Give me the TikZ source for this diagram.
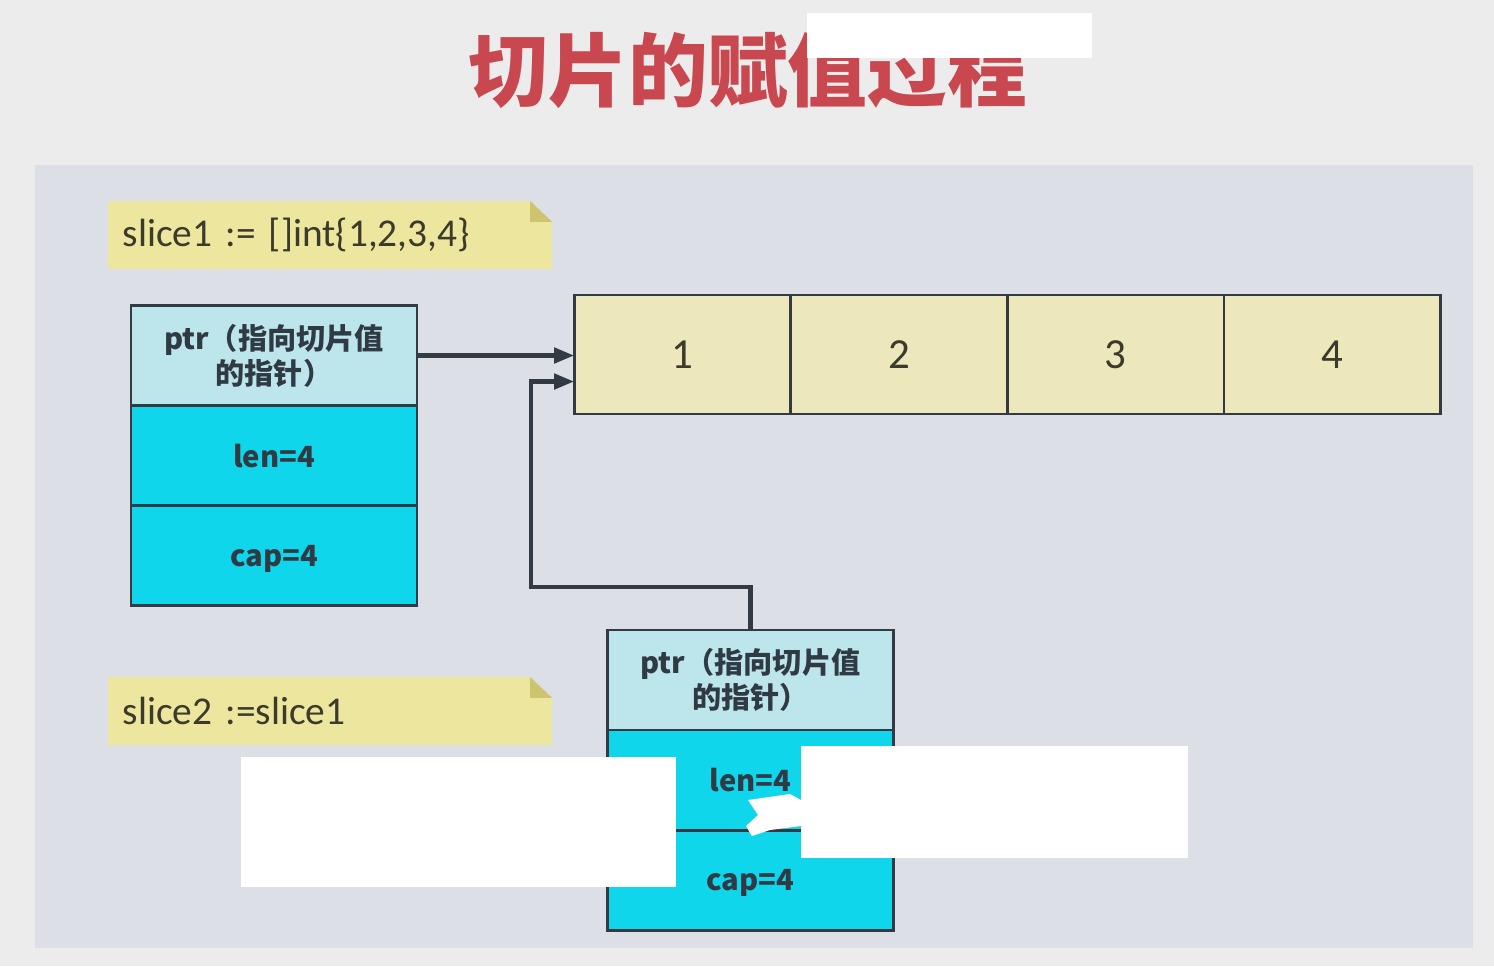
\documentclass[tikz,border=0pt]{standalone}
\usepackage{fontspec}
\setmainfont{Carlito}
\newfontfamily\cjk{Noto Sans CJK SC}
\usepackage{xcolor}
\usepackage{tikz}
\usetikzlibrary{arrows.meta, positioning}

\definecolor{pagebg}{HTML}{ECECEC}
\definecolor{panelbg}{HTML}{DCDFE6}
\definecolor{titlered}{HTML}{C9474F}
\definecolor{noteyellow}{HTML}{ECE69E}
\definecolor{notefold}{HTML}{CCC46E}
\definecolor{notetext}{HTML}{3C3A2A}
\definecolor{cellyellow}{HTML}{ECE8BC}
\definecolor{ptrcyan}{HTML}{BDE5EC}
\definecolor{numcyan}{HTML}{10D6EC}
\definecolor{linedark}{HTML}{333A44}
\definecolor{boxtext}{HTML}{2F3A44}

\tikzset{
  field/.style={draw=linedark, line width=0.8pt, minimum width=2.86cm, minimum height=1cm,
    inner sep=0pt, outer sep=0pt, align=center, text=boxtext,
    font=\cjk\bfseries\fontsize{8.3pt}{10pt}\selectfont},
  ptrfield/.style={field, fill=ptrcyan},
  numfield/.style={field, fill=numcyan, text depth=0pt},
  elem/.style={draw=linedark, line width=0.8pt, fill=cellyellow, minimum width=2.165cm,
    minimum height=1.19cm, inner sep=0pt, outer sep=0pt, text=notetext,
    font=\fontsize{12.2pt}{14pt}\selectfont},
  codenote/.style={fill=noteyellow, minimum height=0.68cm, text width=4.14cm, inner xsep=0.15cm,
    inner ysep=0pt, outer sep=0pt, align=left, text=notetext,
    font=\fontsize{11.2pt}{14pt}\selectfont},
  ptrarrow/.style={draw=linedark, line width=1.3pt, -{Triangle[length=0.2cm, width=0.15cm]}}
}

\begin{document}
\begin{tikzpicture}[x=0.01cm, y=-0.01cm]
\useasboundingbox (0,0) rectangle (1494,966);
\fill[pagebg] (0,0) rectangle (1494,966);
\fill[panelbg] (35,165) rectangle (1473,948);

% title
\node (title) at (748,70) [text=titlered, font=\cjk\bfseries\fontsize{22.7pt}{27pt}\selectfont] {切片的赋值过程};

% notes
\node (noteA) at (330,235) [codenote] {slice1 := []int\{1,2,3,4\}};
\fill[panelbg] (noteA.north east) -- ++(-22,0) -- ++(22,21) -- cycle;
\fill[notefold] ([xshift=-0.22cm]noteA.north east) -- ++(0,21) -- ++(22,0) -- cycle;
\node (noteB) at (330,711) [codenote] {slice2 :=slice1};
\fill[panelbg] (noteB.north east) -- ++(-22,0) -- ++(22,21) -- cycle;
\fill[notefold] ([xshift=-0.22cm]noteB.north east) -- ++(0,21) -- ++(22,0) -- cycle;

% slice1 header
\node (ptrA) at (274,355.5) [ptrfield] {ptr（指向切片值\\的指针）};
\node (lenA) [numfield, below=0pt of ptrA] {len=4};
\node (capA) [numfield, below=0pt of lenA] {cap=4};

% backing array
\node (elem1) at (682.5,354.5) [elem] {1};
\node (elem2) [elem, right=0pt of elem1] {2};
\node (elem3) [elem, right=0pt of elem2] {3};
\node (elem4) [elem, right=0pt of elem3] {4};

% slice2 header
\node (ptrB) at (750.5,680) [ptrfield] {ptr（指向切片值\\的指针）};
\node (lenB) [numfield, below=0pt of ptrB] {len=4};
\node (capB) [numfield, below=0pt of lenB] {cap=4};

% pointers
\coordinate (bend) at (531,587);
\draw[ptrarrow] (ptrA.east) -- (ptrA.east -| elem1.west);
\draw[ptrarrow] (ptrB.north) |- (bend) |- ([yshift=-0.27cm]elem1.west);

% white covers
\fill[white] (807,13) rectangle (1092,58);
\fill[white] (241,757) rectangle (676,887);
\fill[white] (801,746) rectangle (1188,858);
\fill[white] (748,800) -- (790,794) -- (801,800) -- (801,826) -- (770,830) -- (752,836) -- (746,826) -- (758,815) -- cycle;
\end{tikzpicture}
\end{document}
